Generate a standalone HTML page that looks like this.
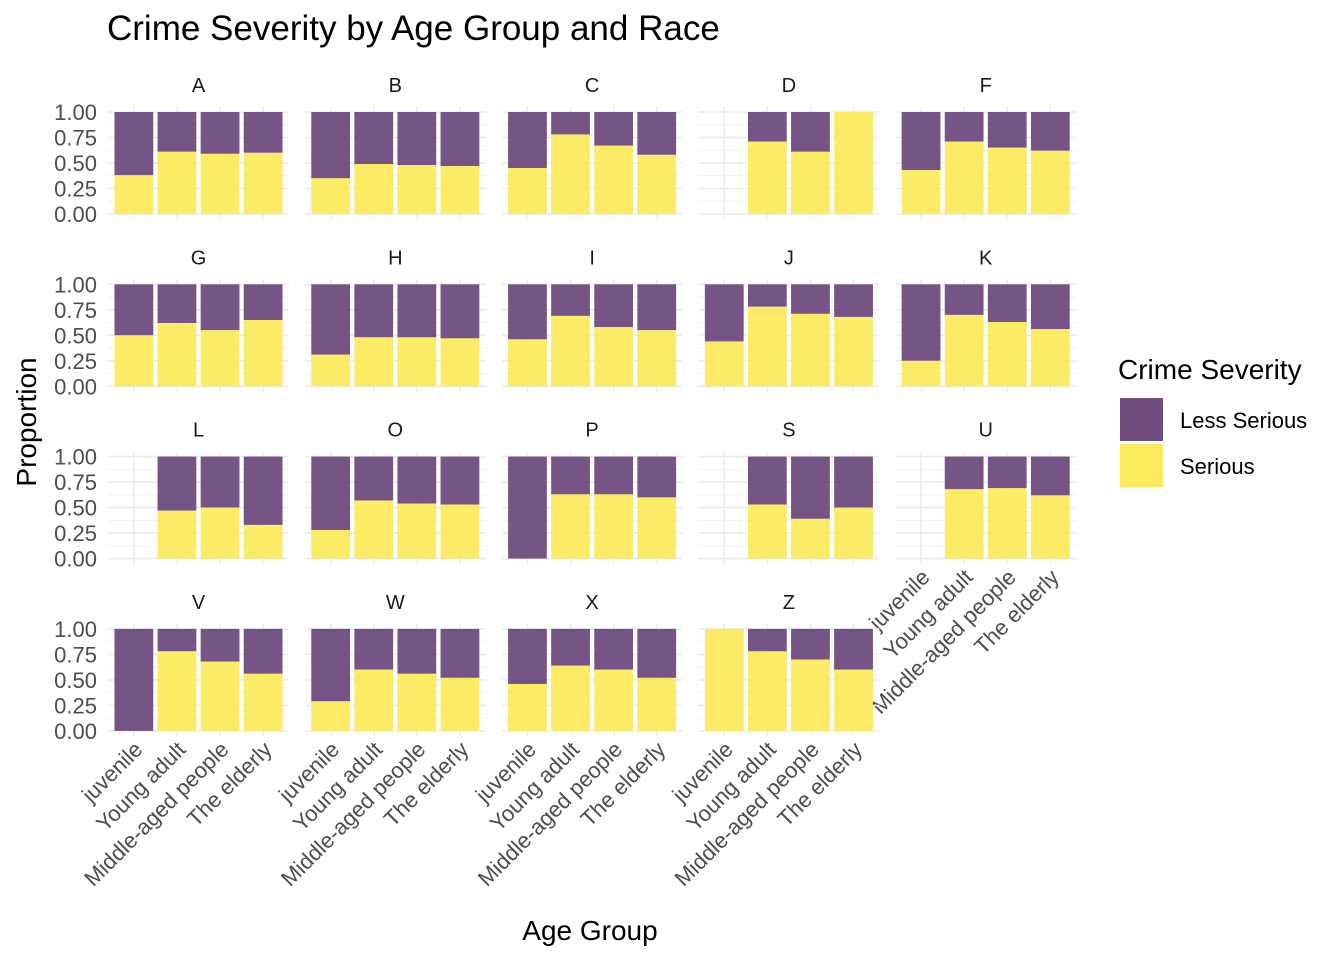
<!DOCTYPE html>
<html><head><meta charset="utf-8"><style>
body{margin:0;background:#fff;}
svg text{font-family:"Liberation Sans",Arial,sans-serif;}
</style></head><body>
<svg id="c" width="1344" height="960" xmlns="http://www.w3.org/2000/svg">
<text x="107" y="40" font-size="35" fill="#000">Crime Severity by Age Group and Race</text>
<text x="590" y="940" font-size="28" text-anchor="middle" fill="#000">Age Group</text>
<text transform="translate(36,422) rotate(-90)" font-size="28" text-anchor="middle" fill="#000">Proportion</text>
<g>
<text x="1118" y="379" font-size="28" fill="#000">Crime Severity</text>
<rect x="1120" y="398" width="43" height="43" fill="#6E4C7E"/>
<text x="1180" y="428" font-size="22" fill="#000">Less Serious</text>
<rect x="1120" y="444" width="43" height="43" fill="#FCEA5E"/>
<text x="1180" y="474" font-size="22" fill="#000">Serious</text>
</g>
<g id="panels"></g>
</svg>
<script>
const races = ["A","B","C","D","F","G","H","I","J","K","L","O","P","S","U","V","W","X","Z"];
const ageGroups = ["juvenile","Young adult","Middle-aged people","The elderly"];
const yTicks = ["0.00","0.25","0.50","0.75","1.00"];
const seriousA = [0.38,0.61,0.59,0.60];
const seriousB = [0.35,0.49,0.48,0.47];
const seriousC = [0.45,0.78,0.67,0.58];
const seriousD = [null,0.71,0.61,1.0];
const seriousF = [0.43,0.71,0.65,0.62];
const seriousG = [0.50,0.62,0.55,0.65];
const seriousH = [0.31,0.48,0.48,0.47];
const seriousI = [0.46,0.69,0.58,0.55];
const seriousJ = [0.44,0.78,0.71,0.68];
const seriousK = [0.25,0.70,0.63,0.56];
const seriousL = [null,0.47,0.50,0.33];
const seriousO = [0.28,0.57,0.54,0.53];
const seriousP = [0.0,0.63,0.63,0.60];
const seriousS = [null,0.53,0.39,0.50];
const seriousU = [null,0.68,0.69,0.62];
const seriousV = [0.0,0.78,0.68,0.56];
const seriousW = [0.29,0.60,0.56,0.52];
const seriousX = [0.46,0.64,0.60,0.52];
const seriousZ = [1.0,0.78,0.70,0.60];
const serious = [seriousA,seriousB,seriousC,seriousD,seriousF,seriousG,seriousH,seriousI,seriousJ,seriousK,seriousL,seriousO,seriousP,seriousS,seriousU,seriousV,seriousW,seriousX,seriousZ];

const NS="http://www.w3.org/2000/svg";
const root=document.getElementById('panels');
function mk(tag,attrs,parent){const e=document.createElementNS(NS,tag);for(const k in attrs)e.setAttribute(k,attrs[k]);parent.appendChild(e);return e;}
const PX0=108, PW=181, PSTEP=196.8, Y1=112, YSTEP=172.3, YH=102;
races.forEach((r,i)=>{
  const col=i%5,row=Math.floor(i/5);
  const px=PX0+col*PSTEP, y1=Y1+row*YSTEP, y0=y1+YH;
  const yS=v=>y0-v*YH;
  const unit=PW/4.2;
  const xS=k=>px+(k+0.6)*unit;
  const g=mk('g',{},root);
  
  
  for(let m=0;m<4;m++){mk('line',{x1:px,x2:px+PW,y1:yS(0.125+m*0.25),y2:yS(0.125+m*0.25),stroke:'#F2F2F2','stroke-width':1},g);}
  yTicks.forEach((t,k)=>{const v=parseFloat(t);
    mk('line',{x1:px,x2:px+PW,y1:yS(v),y2:yS(v),stroke:'#EBEBEB','stroke-width':1.6},g);
    if(col===0){
      const tx=mk('text',{x:px-11,y:yS(v)+8,'font-size':22,fill:'#4D4D4D','text-anchor':'end'},g);
      tx.textContent=t;
      
      
    }
  });
  ageGroups.forEach((a,k)=>{mk('line',{x1:xS(k),x2:xS(k),y1:y1-5,y2:y0+5,stroke:'#EBEBEB','stroke-width':1.6},g);});
  const st=mk('text',{x:px+PW/2,y:y1-20,'font-size':20,'text-anchor':'middle',fill:'#1A1A1A'},g);
  st.textContent=r;
  
  
  const bw=0.9*unit;
  serious[i].forEach((v,k)=>{
    if(v===null)return;
    const x=xS(k)-bw/2;
    const b1=mk('rect',{x:x,y:yS(1),width:bw,height:yS(v)-yS(1),fill:'#6B487C','fill-opacity':0.93},g);
    
    
    const b2=mk('rect',{x:x,y:yS(v),width:bw,height:yS(0)-yS(v),fill:'#FCEA5A','fill-opacity':0.93},g);
    
    
  });
  const bottom = (row===3) || (row===2 && col===4);
  if(bottom){ageGroups.forEach((a,k)=>{
    const ax=xS(k)+10, ay=y0+20;
    const t=mk('text',{x:ax,y:ay,'font-size':22,fill:'#4D4D4D','text-anchor':'end',transform:`rotate(-45 ${ax} ${ay})`},g);
    t.textContent=a;
    
    
  });}
});
</script>
</body></html>
